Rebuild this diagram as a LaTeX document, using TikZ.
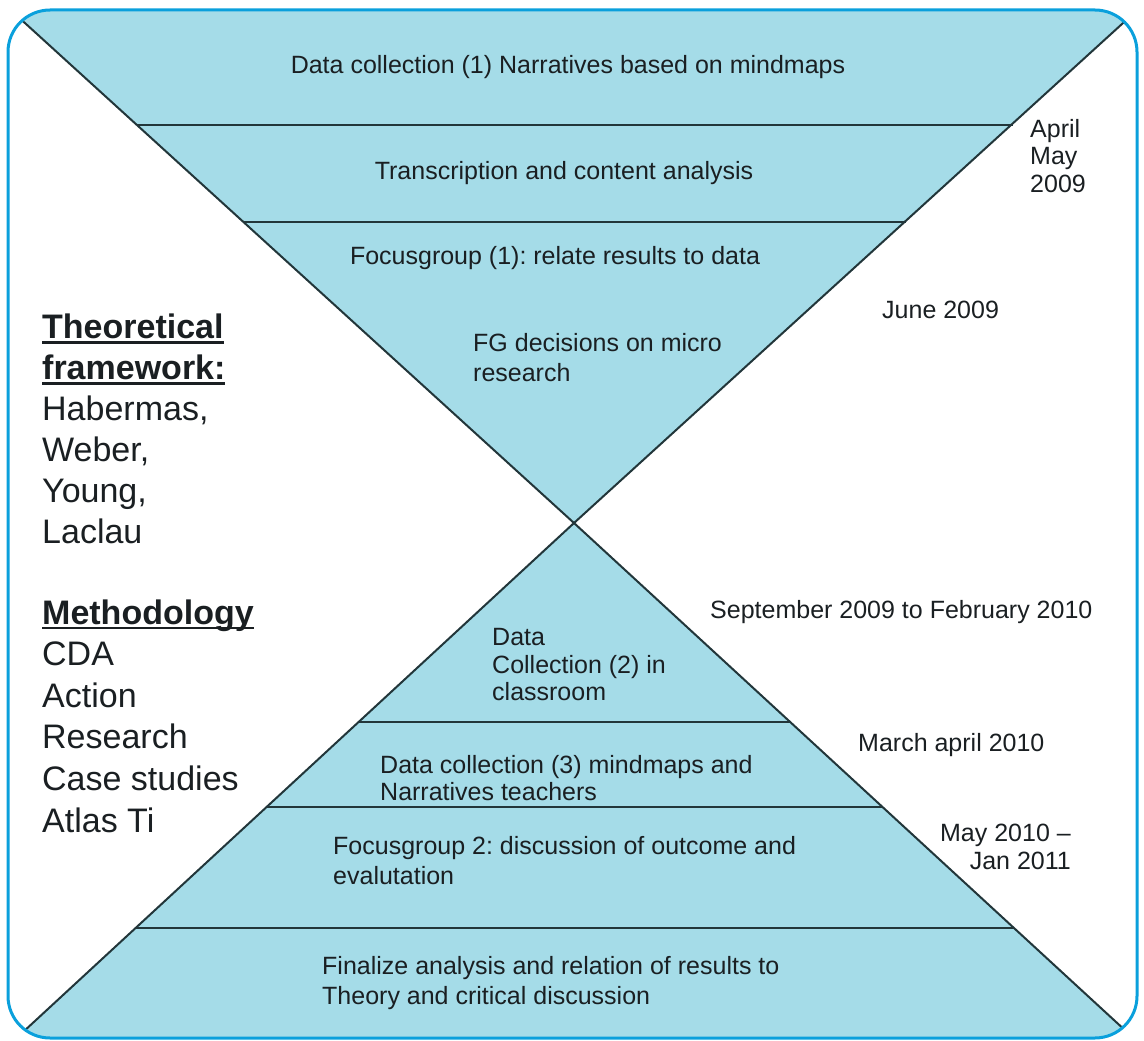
\documentclass[tikz,border=0pt]{standalone}
\usepackage{fontspec}
\setmainfont{Liberation Sans}
\frenchspacing
\definecolor{hgfill}{HTML}{A5DCE8}
\definecolor{hgborder}{HTML}{0AA0DC}
\definecolor{hgline}{HTML}{22363A}
\definecolor{hgtext}{HTML}{1A1F22}
\newcommand\myul[1]{\sbox0{#1}\rlap{\raisebox{-5pt}{\rule{\wd0}{2.6pt}}}\usebox0}
\begin{document}
\begin{tikzpicture}[x=1pt,y=-1pt,
  lbl/.style={inner sep=0pt, text=hgtext, font=\fontsize{25}{30}\selectfont, align=left},
  lbltight/.style={lbl, font=\fontsize{25}{27.5}\selectfont},
  side/.style={inner sep=0pt, text=hgtext, font=\fontsize{34}{41}\selectfont, align=left},
  sepline/.style={draw=hgline, line width=2pt},
  frame/.style={draw=hgborder, line width=3pt, rounded corners=42}]
\useasboundingbox (0,0) rectangle (1144,1041);
% geometry
\coordinate (C) at (574,523);
\coordinate (TL) at (-30,-27);
\coordinate (TR) at (1178,-27);
\coordinate (BL) at (-30,1081);
\coordinate (BR) at (1178,1079);
\coordinate (h1l) at (137,125);   \coordinate (h1r) at (1013,125);
\coordinate (h2l) at (244,222);   \coordinate (h2r) at (906,222);
\coordinate (h3l) at (359,722);   \coordinate (h3r) at (790,722);
\coordinate (h4l) at (267,807);   \coordinate (h4r) at (883,807);
\coordinate (h5l) at (136,928);   \coordinate (h5r) at (1014,928);
\begin{scope}
  \clip[rounded corners=42] (8,10) rectangle (1137,1038);
  \fill[hgfill] (C) -- (TL) -- (TR) -- cycle;
  \fill[hgfill] (C) -- (BL) -- (BR) -- cycle;
  \draw[sepline] (C) -- (TL);
  \draw[sepline] (C) -- (TR);
  \draw[sepline] (C) -- (BL);
  \draw[sepline] (C) -- (BR);
\end{scope}
\draw[sepline] (h1l) -- (h1r);
\draw[sepline] (h2l) -- (h2r);
\draw[sepline] (h3l) -- (h3r);
\draw[sepline] (h4l) -- (h4r);
\draw[sepline] (h5l) -- (h5r);
\draw[frame] (8,10) rectangle (1137,1038);
% triangle texts
\node[lbl] (t1) at (568,67) {Data collection (1) Narratives based on mindmaps};
\node[lbl] (t2) at (564,173) {Transcription and content analysis};
\node[lbl] (t3) at (555,258) {Focusgroup (1): relate results to data};
\node[lbl, anchor=west] (t4) at (473,358) {FG decisions on micro\\research};
\node[lbltight, anchor=west] (t5) at (492,665) {Data\\Collection (2) in\\classroom};
\node[lbltight, anchor=west] (t6) at (380,778) {Data collection (3) mindmaps and\\Narratives teachers};
\node[lbl, anchor=west] (t7) at (333,861) {Focusgroup 2: discussion of outcome and\\evalutation};
\node[lbl, anchor=west] (t8) at (322,983) {Finalize analysis and relation of results to\\Theory and critical discussion};
% dates
\node[lbltight, anchor=west] (d1) at (1030,156) {April\\May\\2009};
\node[lbl, anchor=west] (d2) at (882,310) {June 2009};
\node[lbl, anchor=west] (d3) at (710,612) {September 2009 to February 2010};
\node[lbl, anchor=west] (d4) at (858,745) {March april 2010};
\node[lbltight, anchor=east, align=right] (d5) at (1071,847) {May 2010 –\\Jan 2011};
% left column
\node[side, anchor=west] (theory) at (42,429) {\textbf{\myul{Theoretical}}\\\textbf{\myul{framework:}}\\Habermas,\\Weber,\\Young,\\Laclau};
\node[side, anchor=west, font=\fontsize{34}{41.6}\selectfont] (method) at (42,716) {\textbf{\myul{Methodology}}\\CDA\\Action\\Research\\Case studies\\Atlas Ti};
\end{tikzpicture}
\end{document}
